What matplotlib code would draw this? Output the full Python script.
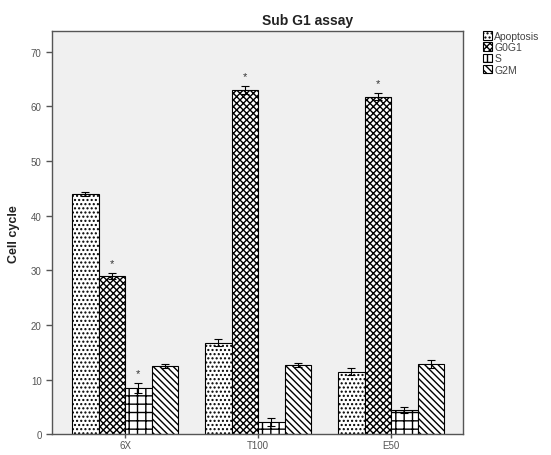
import matplotlib
matplotlib.use("Agg")
import matplotlib.pyplot as plt
import numpy as np

plt.rcParams['font.family'] = ['Liberation Sans', 'DejaVu Sans']
plt.rcParams['hatch.linewidth'] = 1.0

# Sub G1 assay data
groups = ["6X", "T100", "E50"]
phases = ["Apoptosis", "G0G1", "S", "G2M"]
apoptosis = [44.0, 16.8, 11.5]
g0g1 = [29.0, 63.0, 61.8]
s_phase = [8.5, 2.3, 4.5]
g2m = [12.5, 12.7, 12.9]
apoptosis_err = [0.3, 0.7, 0.7]
g0g1_err = [0.5, 0.7, 0.7]
s_err = [0.9, 0.7, 0.5]
g2m_err = [0.4, 0.4, 0.8]
# significance markers (1 = starred)
g0g1_sig = [1, 1, 1]
s_sig = [1, 0, 0]

series = [apoptosis, g0g1, s_phase, g2m]
errors = [apoptosis_err, g0g1_err, s_err, g2m_err]
sigs = [[0, 0, 0], g0g1_sig, s_sig, [0, 0, 0]]
hatches = ['....', 'xxxxx', '++', '\\\\\\\\\\']

fig = plt.figure(figsize=(5.51, 4.56), dpi=100)
ax = fig.add_axes([0.0944, 0.045, 0.7458, 0.885])
ax.set_facecolor('#f0f0f0')

x = np.arange(len(groups))
width = 0.2
handles = []
for i, (vals, errs, sig, h, name) in enumerate(zip(series, errors, sigs, hatches, phases)):
    pos = x + (i - 1.5) * width
    b = ax.bar(pos, vals, width, color='white', edgecolor='black',
               hatch=h, linewidth=0.8, label=name, zorder=2)
    handles.append(b)
    ax.errorbar(pos, vals, yerr=errs, fmt='none', ecolor='black',
                elinewidth=0.8, capsize=3, capthick=0.8, zorder=3)
    for p, v, e, s in zip(pos, vals, errs, sig):
        if s:
            ax.text(p, v + e + 0.9, '*', ha='center', va='bottom',
                    fontsize=8, color='#333333', zorder=4)

ax.set_xlim(-0.55, 2.54)
ax.set_ylim(0, 73.8)
ax.set_yticks(np.arange(0, 71, 10))
ax.set_xticks(x)
ax.set_xticklabels(groups)
ax.tick_params(axis='both', labelsize=7, colors='#555555', length=4, width=1)
ax.tick_params(axis='x', length=3, pad=1)
for sp in ax.spines.values():
    sp.set_color('#555555')
    sp.set_linewidth(1.0)

ax.set_ylabel('Cell cycle', fontsize=9, fontweight='bold', color='#222222', labelpad=8)
fig.text(0.559, 0.953, 'Sub G1 assay', ha='center', va='center',
         fontsize=10, fontweight='bold', color='#222222')

leg = fig.legend(handles, phases, loc='upper left', bbox_to_anchor=(0.876, 0.93),
                 frameon=False, fontsize=7.5, handlelength=0.9, handleheight=0.9,
                 handletextpad=0.2, labelspacing=0.12, borderpad=0, borderaxespad=0)
for t in leg.get_texts():
    t.set_color('#444444')

fig.savefig('out.png', dpi=100)
